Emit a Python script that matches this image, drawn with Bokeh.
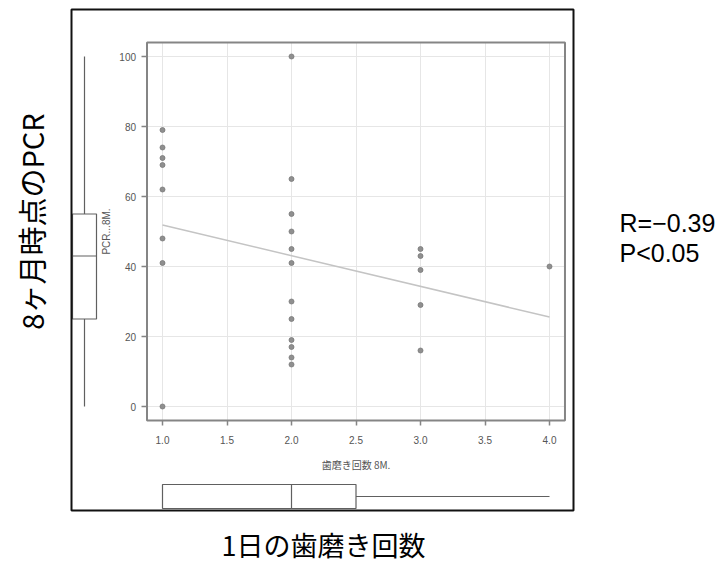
import numpy as np
from math import pi
from bokeh.plotting import figure
from bokeh.models import Range1d, LinearAxis, FixedTicker, Grid, Label
from bokeh.embed import file_html
from bokeh.resources import INLINE

# ---------------- data ----------------
brush_1 = [79, 74, 71, 69, 62, 48, 41, 0]
brush_2 = [100, 65, 55, 50, 45, 41, 30, 25, 19, 17, 14, 12]
brush_3 = [45, 43, 39, 29, 16]
brush_4 = [40]
brush_counts = [1.0, 2.0, 3.0, 4.0]

x_ticks = [1.0, 1.5, 2.0, 2.5, 3.0, 3.5, 4.0]
x_tick_labels = ["1.0", "1.5", "2.0", "2.5", "3.0", "3.5", "4.0"]
y_ticks = [0, 20, 40, 60, 80, 100]
y_tick_labels = ["0", "20", "40", "60", "80", "100"]

# boxplot stats: min, q1, median, q3, max
pcr_box = [0, 25, 43, 55, 100]
brush_box = [1.0, 1.0, 2.0, 2.5, 4.0]

x_title = "歯磨き回数 8M."
y_title = "PCR...8M."
outer_x_title = "1日の歯磨き回数"
outer_y_title = "8ヶ月時点のPCR"
r_text = "R=−0.39"
p_text = "P<0.05"

# ---------------- assemble ----------------
groups = [brush_1, brush_2, brush_3, brush_4]
xs = []
ys = []
for cx, g in zip(brush_counts, groups):
    xs += [cx] * len(g)
    ys += g
xs = np.array(xs, dtype=float)
ys = np.array(ys, dtype=float)
slope, intercept = np.polyfit(xs, ys, 1)

# ---------------- layout (canvas pixels) ----------------
W, H = 725, 564
X1_PX, X4_PX = 162.0, 549.0     # where x=1 and x=4 sit
Y0_PX, Y100_PX = 406.0, 56.0    # where y=0 and y=100 sit (from top)
ppx = (X4_PX - X1_PX) / 3.0
ppy = (Y0_PX - Y100_PX) / 100.0
x_start = 1.0 - X1_PX / ppx
x_end = x_start + W / ppx
y_top = Y0_PX / ppy
y_bottom = y_top - H / ppy


def dx(px):
    return x_start + px / ppx


def dy(py):
    return y_top - py / ppy


# R-style 4% range extension for the panel
xspan = xs.max() - xs.min()
yspan = ys.max() - ys.min()
xlo, xhi = xs.min() - 0.04 * xspan, xs.max() + 0.04 * xspan
ylo, yhi = ys.min() - 0.04 * yspan, ys.max() + 0.04 * yspan

p = figure(width=W, height=H, output_backend="svg", toolbar_location=None,
           x_range=Range1d(x_start, x_end), y_range=Range1d(y_bottom, y_top),
           x_axis_type=None, y_axis_type=None, min_border=0,
           outline_line_color=None, background_fill_color="white")
p.grid.visible = False

GRID = "#e6e6e6"
PANEL = "#858585"
BOXC = "#606060"
TICKC = "#555555"

# grid lines limited to the panel
gx = Grid(dimension=0, ticker=FixedTicker(ticks=x_ticks), cross_bounds=(ylo, yhi),
          grid_line_color=GRID, grid_line_width=1)
gy = Grid(dimension=1, ticker=FixedTicker(ticks=y_ticks), cross_bounds=(xlo, xhi),
          grid_line_color=GRID, grid_line_width=1)
p.add_layout(gx)
p.add_layout(gy)

# regression line
lx = np.array([xs.min(), xs.max()])
p.line(lx, slope * lx + intercept, line_color="#c4c4c4", line_width=1.5)

# points
p.scatter(xs, ys, size=5, fill_color="#8f8f8f", line_color="#7a7a7a", line_width=0.8)

# panel border
p.quad(left=[xlo], right=[xhi], bottom=[ylo], top=[yhi], fill_color=None,
       line_color=PANEL, line_width=2)

# axes (placed on the panel edges)
xaxis = LinearAxis(fixed_location=ylo, ticker=FixedTicker(ticks=x_ticks),
                   major_label_overrides={t: l for t, l in zip(x_ticks, x_tick_labels)},
                   axis_line_color=None, major_tick_in=0, major_tick_out=5,
                   minor_tick_in=0, minor_tick_out=0,
                   major_tick_line_color=PANEL, major_tick_line_width=1.5,
                   major_label_text_font="Liberation Sans",
                   major_label_text_font_size="10px",
                   major_label_text_color=TICKC, major_label_standoff=10)
p.add_layout(xaxis, "below")
yaxis = LinearAxis(fixed_location=xlo, ticker=FixedTicker(ticks=y_ticks),
                   major_label_overrides={t: l for t, l in zip(y_ticks, y_tick_labels)},
                   axis_line_color=None, major_tick_in=0, major_tick_out=6,
                   minor_tick_in=0, minor_tick_out=0,
                   major_tick_line_color=PANEL, major_tick_line_width=1.5,
                   major_label_text_font="Liberation Sans",
                   major_label_text_font_size="10px",
                   major_label_text_color=TICKC, major_label_standoff=5,
                   major_label_orientation="horizontal")
p.add_layout(yaxis, "left")

# left boxplot (PCR)
bx = dx(84)
bhw = 12 / ppx
p.quad(left=[bx - bhw], right=[bx + bhw], bottom=[pcr_box[1]], top=[pcr_box[3]],
       fill_color=None, line_color=BOXC, line_width=1.2)
p.segment(x0=[bx - bhw, bx, bx], x1=[bx + bhw, bx, bx],
          y0=[pcr_box[2], pcr_box[3], pcr_box[0]], y1=[pcr_box[2], pcr_box[4], pcr_box[1]],
          line_color=BOXC, line_width=1.2)

# bottom boxplot (brushing count)
by = dy(496)
bhh = 12 / ppy
p.quad(left=[brush_box[1]], right=[brush_box[3]], bottom=[by - bhh], top=[by + bhh],
       fill_color=None, line_color=BOXC, line_width=1.2)
p.segment(x0=[brush_box[2], brush_box[3], brush_box[0]],
          x1=[brush_box[2], brush_box[4], brush_box[1]],
          y0=[by - bhh, by, by], y1=[by + bhh, by, by],
          line_color=BOXC, line_width=1.2)

# outer black frame
p.quad(left=[dx(71)], right=[dx(573)], bottom=[dy(510)], top=[dy(9)], fill_color=None,
       line_color="#111111", line_width=2)

# inner axis titles
p.add_layout(Label(x=(xlo + xhi) / 2, y=dy(464), text=x_title, text_align="center",
                   text_baseline="middle", text_font="Noto Sans CJK JP",
                   text_font_size="10px", text_color=TICKC))
p.add_layout(Label(x=dx(106), y=(ylo + yhi) / 2, text=y_title, angle=pi / 2,
                   text_align="center", text_baseline="middle",
                   text_font="Liberation Sans", text_font_size="10px", text_color=TICKC))

# outer titles
p.add_layout(Label(x=dx(30), y=dy(221), text=outer_y_title, angle=pi / 2,
                   text_align="center", text_baseline="middle",
                   text_font="Noto Sans CJK JP", text_font_size="29px", text_color="black"))
p.add_layout(Label(x=dx(323), y=dy(563), text=outer_x_title, text_align="center",
                   text_baseline="bottom", text_font="Noto Sans CJK JP",
                   text_font_size="27px", text_color="black"))

# statistics text
p.add_layout(Label(x=dx(619), y=dy(222), text=r_text, text_align="left",
                   text_baseline="alphabetic", text_font="Liberation Sans",
                   text_font_size="25px", text_color="black"))
p.add_layout(Label(x=dx(619), y=dy(252), text=p_text, text_align="left",
                   text_baseline="alphabetic", text_font="Liberation Sans",
                   text_font_size="25px", text_color="black"))

open("out.html", "w").write(file_html(p, INLINE))
